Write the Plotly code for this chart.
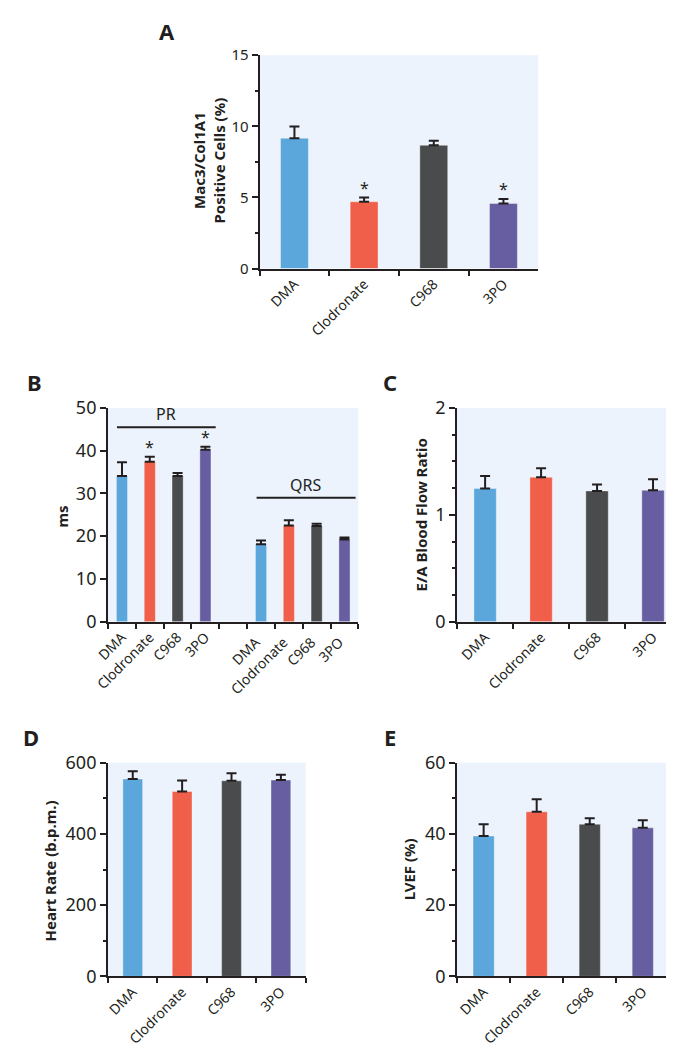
import plotly.graph_objects as go

# ---------------- data ----------------
groups = ["DMA", "Clodronate", "C968", "3PO"]
colors = ["#5BA6DB", "#EF5F4A", "#4A4B4D", "#665EA0"]

a_vals = [9.16, 4.69, 8.66, 4.57]
a_err = [0.82, 0.30, 0.32, 0.31]
a_sig = [False, True, False, True]

pr_vals = [34.1, 37.4, 34.1, 40.2]
pr_err = [3.2, 1.2, 0.7, 0.7]
pr_sig = [False, True, False, True]
qrs_vals = [18.1, 22.5, 22.4, 19.2]
qrs_err = [0.9, 1.2, 0.5, 0.5]

c_vals = [1.247, 1.351, 1.223, 1.229]
c_err = [0.116, 0.085, 0.061, 0.103]

d_vals = [554, 519, 549, 551]
d_err = [22, 31, 21, 15]

e_vals = [39.4, 46.2, 42.7, 41.7]
e_err = [3.3, 3.5, 1.7, 2.1]

pr_label_y = 45.5
qrs_label_y = 29.0

# ---------------- layout helpers ----------------
W, H = 674, 1050
INK = "#231F20"
BG = "#ECF3FC"
FONT = "Noto Sans"


def px(x):
    return x / W


def py(y):
    return 1 - y / H


fig = go.Figure()


def add_bars(idx, cats, vals, errs, cols):
    xa = "x" if idx == 1 else f"x{idx}"
    ya = "y" if idx == 1 else f"y{idx}"
    fig.add_trace(go.Bar(
        x=cats, y=vals, xaxis=xa, yaxis=ya,
        marker=dict(color=cols, line=dict(width=0.6, color="rgba(255,255,255,0.6)")),
        width=0.4,
        error_y=dict(type="data", array=errs, arrayminus=[0] * len(errs),
                     symmetric=False, color=INK, thickness=2, width=5),
        showlegend=False, hoverinfo="skip",
    ))


add_bars(1, groups, a_vals, a_err, colors)

b_cats = groups + [" "] + [g + "  " for g in groups]
b_vals = pr_vals + [None] + qrs_vals
b_errs = pr_err + [0] + qrs_err
b_cols = colors + ["rgba(0,0,0,0)"] + colors
add_bars(2, b_cats, b_vals, b_errs, b_cols)

add_bars(3, groups, c_vals, c_err, colors)
add_bars(4, groups, d_vals, d_err, colors)
add_bars(5, groups, e_vals, e_err, colors)

# axis domains in pixel coordinates (left, right, top, bottom)
boxes = {
    1: (242, 527, 35, 253.3),
    2: (87, 343, 396, 614.7),
    3: (444, 673, 396, 614.7),
    4: (87, 289, 759, 977.7),
    5: (444, 661, 759, 977.7),
}
yranges = {1: [0, 15], 2: [0, 50], 3: [0, 2], 4: [0, 600], 5: [0, 60]}
ydticks = {1: 5, 2: 10, 3: 1, 4: 200, 5: 20}
yminor = {1: 2.5, 2: None, 3: 0.25, 4: 100, 5: 10}
ytickfs = {1: 15, 2: 18, 3: 18, 4: 18, 5: 18}
xcats = {1: groups, 2: b_cats, 3: groups, 4: groups, 5: groups}

layout = dict(
    width=W, height=H, margin=dict(l=0, r=0, t=0, b=0),
    paper_bgcolor="white", plot_bgcolor=BG,
    font=dict(family=FONT, color=INK, size=14),
    bargap=0.6, showlegend=False,
)

for i in range(1, 6):
    l, r, t, b = boxes[i]
    xk = "xaxis" if i == 1 else f"xaxis{i}"
    yk = "yaxis" if i == 1 else f"yaxis{i}"
    ya = "y" if i == 1 else f"y{i}"
    xa = "x" if i == 1 else f"x{i}"
    layout[xk] = dict(
        domain=[px(l), px(r)], anchor=ya, type="category",
        categoryorder="array", categoryarray=xcats[i],
        range=[-0.5, len(xcats[i]) - 0.5],
        tickson="boundaries", ticks="outside", ticklen=5, tickwidth=2, tickcolor=INK,
        showline=True, linecolor=INK, linewidth=2, showgrid=False, zeroline=False,
        tickangle=-45, tickfont=dict(size=14, family=FONT, color=INK),
        fixedrange=True,
    )
    ydict = dict(
        domain=[py(b), py(t)], anchor=xa, range=yranges[i], dtick=ydticks[i],
        ticks="outside", ticklen=6, tickwidth=2, tickcolor=INK,
        showline=True, linecolor=INK, linewidth=2, showgrid=False, zeroline=False,
        tickfont=dict(size=ytickfs[i], family=FONT, color=INK), fixedrange=True,
    )
    if yminor[i]:
        ydict["minor"] = dict(dtick=yminor[i], ticks="outside", ticklen=3,
                              tickwidth=1.5, tickcolor=INK, showgrid=False)
    layout[yk] = ydict

fig.update_layout(**layout)

annotations = []
# panel letters
for letter, x, y in [("A", 147, 10), ("B", 12, 369), ("C", 375, 369),
                     ("D", 8, 733), ("E", 375, 733)]:
    annotations.append(dict(text=f"<b>{letter}</b>", x=px(x), y=py(y), xref="paper",
                            yref="paper", showarrow=False, xanchor="center",
                            yanchor="middle", font=dict(size=22, family=FONT, color=INK)))

# y-axis titles
for txt, x, y in [("Mac3/Col1A1<br>Positive Cells (%)", 190, 143),
                  ("ms", 40, 507), ("E/A Blood Flow Ratio", 408, 505),
                  ("Heart Rate (b.p.m.)", 28, 870), ("LVEF (%)", 395, 868)]:
    annotations.append(dict(text=f"<b>{txt}</b>", x=px(x), y=py(y), xref="paper",
                            yref="paper", showarrow=False, textangle=-90,
                            xanchor="center", yanchor="middle",
                            font=dict(size=15, family=FONT, color=INK)))

# significance asterisks
for g, v, e, s in zip(groups, a_vals, a_err, a_sig):
    if s:
        annotations.append(dict(text="*", x=g, y=v + e, xref="x", yref="y",
                                showarrow=False, yanchor="bottom", yshift=-3,
                                font=dict(size=16, family=FONT, color=INK)))
for g, v, e, s in zip(groups, pr_vals, pr_err, pr_sig):
    if s:
        annotations.append(dict(text="*", x=g, y=v + e, xref="x2", yref="y2",
                                showarrow=False, yanchor="bottom", yshift=-3,
                                font=dict(size=16, family=FONT, color=INK)))

# PR / QRS group labels
annotations.append(dict(text="PR", x=1.6, y=pr_label_y, xref="x2", yref="y2",
                        showarrow=False, yanchor="bottom", yshift=0,
                        font=dict(size=16, family=FONT, color=INK)))
annotations.append(dict(text="QRS", x=6.6, y=qrs_label_y, xref="x2", yref="y2",
                        showarrow=False, yanchor="bottom", yshift=0,
                        font=dict(size=16, family=FONT, color=INK)))
fig.update_layout(annotations=annotations)

fig.add_shape(type="line", xref="x2", yref="y2", x0=-0.18, x1=3.37,
              y0=pr_label_y, y1=pr_label_y, line=dict(color=INK, width=2))
fig.add_shape(type="line", xref="x2", yref="y2", x0=4.84, x1=8.4,
              y0=qrs_label_y, y1=qrs_label_y, line=dict(color=INK, width=2))

fig.write_html("out.html")
